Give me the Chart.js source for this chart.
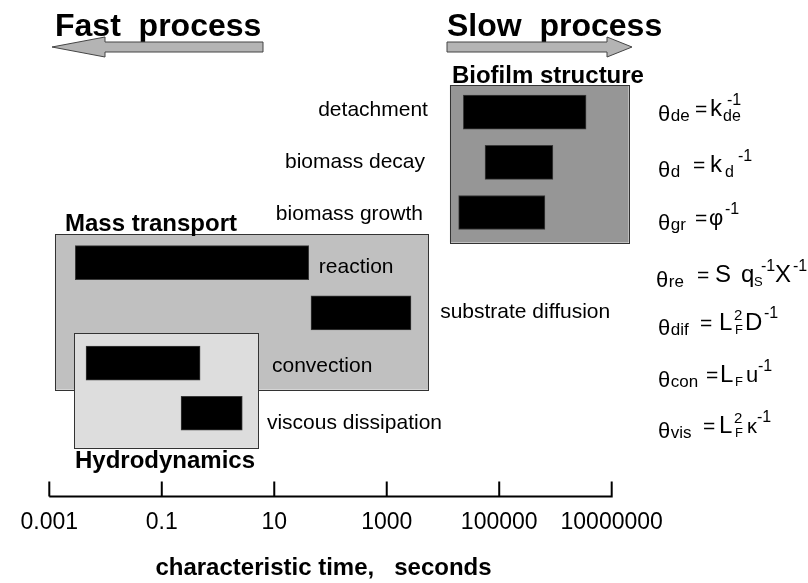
<!DOCTYPE html>
<html>
<head>
<meta charset="utf-8">
<script src="https://cdn.jsdelivr.net/npm/chart.js@4"></script>
<style>
  html, body { margin: 0; padding: 0; background: #fff; }
  canvas { display: block; }
</style>
</head>
<body>
<canvas id="myChart" width="808" height="583"></canvas>
<script>
// processes, one row each (top to bottom)
var processes = ['detachment', 'biomass decay', 'biomass growth', 'reaction',
                 'substrate diffusion', 'convection', 'viscous dissipation'];
// characteristic time range of each process, seconds
var timeFrom = [2.3e4, 5.6e4, 1.9e4, 2.9e-3, 45, 4.5e-3, 0.22];
var timeTo   = [3.5e6, 9.0e5, 6.5e5, 41, 2.7e3, 0.48, 2.7];

// process groups (boxes), extents in seconds and in rows
var groupNames  = ['Mass transport', 'Hydrodynamics', 'Biofilm structure'];
var groupFrom   = [1.26e-3, 2.75e-3, 1.33e4];
var groupTo     = [5.5e3, 5.2, 2.0e7];
var groupRowTop = [2.43, 4.40, -0.54];
var groupRowBot = [5.53, 6.69, 2.60];

var tickValues = [1e-3, 1e-1, 10, 1e3, 1e5, 1e7];
var tickLabels = ['0.001', '0.1', '10', '1000', '100000', '10000000'];

var FONT = '"Liberation Sans", Arial, Helvetica, sans-serif';
Chart.defaults.font.family = FONT;
Chart.defaults.color = '#000';

// axis range picked so 1e-3 sits at x=49 and 1e7 at x=612
var pxPerDecade = 56.24;
var xMin = Math.pow(10, -3 - 49.3 / pxPerDecade);
var xMax = Math.pow(10, -3 - 49.3 / pxPerDecade + 647 / pxPerDecade);
var rowPx = 50.23;
var yMin = -112.2 / rowPx;
var yMax = yMin + 497 / rowPx;

// where the process names sit: anchor time, alignment, row shift
var labelAt    = [5.4e3, 4.8e3, 4.4e3, 62, 8.9e3, 9.1, 7.4];
var labelAlign = ['right', 'right', 'right', 'left', 'left', 'left', 'left'];
var labelDy    = [-0.04, 0, 0.04, 0.1, -0.02, 0.07, 0.2];

var groupFill = ['#c0c0c0', '#dddddd', '#969696'];

// formula pieces: [text, x (null = right after previous), dy, size]
var formulas = [
  [116, [['θ',658,5,22],['de',null,5,17],['=',695,0,21],['k',710,0,24],['de',723,5,16],['-1',727,-11,16]]],
  [172, [['θ',658,5,22],['d',null,5,17],['=',693,0,21],['k',710,0,24],['d',725,5,16],['-1',738,-11,16]]],
  [225, [['θ',658,5,22],['gr',null,5,17],['=',695,0,21],['φ',709,0,22],['-1',725,-11,16]]],
  [282, [['θ',656,5,22],['re',null,5,17],['=',697,0,21],['S',715,0,24],['q',741,0,24],['S',754,4,13],['-1',761,-11,16],['X',775,0,24],['-1',793,-11,16]]],
  [330, [['θ',658,5,22],['dif',null,5,17],['=',700,0,21],['L',719,0,24],['2',734,-10,15],['F',735,4,13],['D',745,0,24],['-1',764,-12,16]]],
  [382, [['θ',658,5,22],['con',null,5,17],['=',706,0,21],['L',720,0,24],['F',735,4,13],['u',746,0,22],['-1',758,-11,16]]],
  [433, [['θ',658,5,22],['vis',null,5,17],['=',703,0,21],['L',719,0,24],['2',734,-10,15],['F',735,4,13],['κ',747,0,20],['-1',757,-11,16]]]
];

function drawArrow(ctx, x0, x1, tip) {
  ctx.beginPath();
  ctx.moveTo(x1, 42);
  ctx.lineTo(x0, 42);
  ctx.lineTo(x0, 37);
  ctx.lineTo(tip, 47);
  ctx.lineTo(x0, 57);
  ctx.lineTo(x0, 52);
  ctx.lineTo(x1, 52);
  ctx.closePath();
  ctx.fillStyle = '#b4b4b4';
  ctx.fill();
  ctx.strokeStyle = '#444';
  ctx.lineWidth = 1;
  ctx.stroke();
}

var decor = {
  id: 'decor',
  beforeDatasetsDraw: function (chart) {
    var ctx = chart.ctx, xs = chart.scales.x, ys = chart.scales.y;
    ctx.save();
    for (var g = 0; g < groupNames.length; g++) {
      var l = xs.getPixelForValue(groupFrom[g]), r = xs.getPixelForValue(groupTo[g]);
      var t = ys.getPixelForValue(groupRowTop[g]), b = ys.getPixelForValue(groupRowBot[g]);
      ctx.fillStyle = groupFill[g];
      ctx.fillRect(l, t, r - l, b - t);
      ctx.strokeStyle = '#333';
      ctx.lineWidth = 1;
      ctx.strokeRect(Math.round(l) + 0.5, Math.round(t) + 0.5, Math.round(r - l), Math.round(b - t));
      ctx.fillStyle = '#000';
      ctx.font = 'bold 24px ' + FONT;
      ctx.textAlign = 'left';
      ctx.textBaseline = 'alphabetic';
      if (g === 0) ctx.fillText(groupNames[g], l + 10, t - 3);
      if (g === 1) ctx.fillText(groupNames[g], l + 1, b + 20);
      if (g === 2) ctx.fillText(groupNames[g], l + 2, t - 2);
    }
    ctx.restore();
  },
  afterDraw: function (chart) {
    var ctx = chart.ctx, xs = chart.scales.x, ys = chart.scales.y;
    ctx.save();
    // axis line with upward ticks
    var axY = chart.chartArea.bottom;
    var a = xs.getPixelForValue(tickValues[0]), z = xs.getPixelForValue(tickValues[tickValues.length - 1]);
    ctx.strokeStyle = '#000';
    ctx.lineWidth = 2;
    ctx.beginPath();
    ctx.moveTo(a, axY);
    ctx.lineTo(z + 1, axY);
    tickValues.forEach(function (v) {
      var px = xs.getPixelForValue(v);
      ctx.moveTo(px, axY);
      ctx.lineTo(px, axY - 15);
    });
    ctx.stroke();

    // process names
    ctx.fillStyle = '#000';
    ctx.font = '21px ' + FONT;
    ctx.textBaseline = 'middle';
    for (var i = 0; i < processes.length; i++) {
      ctx.textAlign = labelAlign[i];
      ctx.fillText(processes[i], xs.getPixelForValue(labelAt[i]), ys.getPixelForValue(i + labelDy[i]));
    }

    // headings and arrows
    ctx.textAlign = 'left';
    ctx.textBaseline = 'alphabetic';
    ctx.font = 'bold 32px ' + FONT;
    ctx.fillText('Fast  process', 55, 36);
    ctx.fillText('Slow  process', 447, 36);
    drawArrow(ctx, 105, 263, 52);
    drawArrow(ctx, 607, 447, 632);

    // formulas
    ctx.fillStyle = '#000';
    formulas.forEach(function (f) {
      var base = f[0], cursor = 0;
      f[1].forEach(function (p) {
        ctx.font = p[3] + 'px ' + FONT;
        var x = p[1] === null ? cursor + 0.5 : p[1];
        ctx.fillText(p[0], x, base + p[2]);
        cursor = x + ctx.measureText(p[0]).width;
      });
    });
    ctx.restore();
  }
};

var ctx = document.getElementById('myChart').getContext('2d');
var myChart = new Chart(ctx, {
  type: 'bar',
  data: {
    datasets: [{
      data: processes.map(function (p, i) { return { x: [timeFrom[i], timeTo[i]], y: i }; }),
      backgroundColor: '#000',
      borderColor: '#3a3a3a',
      borderWidth: 1,
      borderSkipped: false,
      barThickness: 34
    }]
  },
  options: {
    indexAxis: 'y',
    responsive: false,
    animation: false,
    devicePixelRatio: 1,
    layout: { padding: { left: 0, right: 161, top: 0, bottom: 0 } },
    plugins: { legend: { display: false }, tooltip: { enabled: false } },
    scales: {
      x: {
        type: 'logarithmic',
        min: xMin,
        max: xMax,
        bounds: 'data',
        afterBuildTicks: function (s) {
          s.ticks = tickValues.map(function (v) { return { value: v }; });
        },
        ticks: {
          callback: function (v, i) { return tickLabels[i]; },
          font: { size: 23 },
          color: '#000',
          padding: 12,
          maxRotation: 0,
          autoSkip: false
        },
        grid: { display: false, drawTicks: false },
        border: { display: false },
        title: {
          display: true,
          text: 'characteristic time,   seconds',
          color: '#000',
          font: { size: 24, weight: 'bold' },
          padding: { top: 6, bottom: 0 }
        }
      },
      y: {
        type: 'linear',
        reverse: true,
        offset: false,
        min: yMin,
        max: yMax,
        bounds: 'data',
        display: false
      }
    }
  },
  plugins: [decor]
});
</script>
</body>
</html>
